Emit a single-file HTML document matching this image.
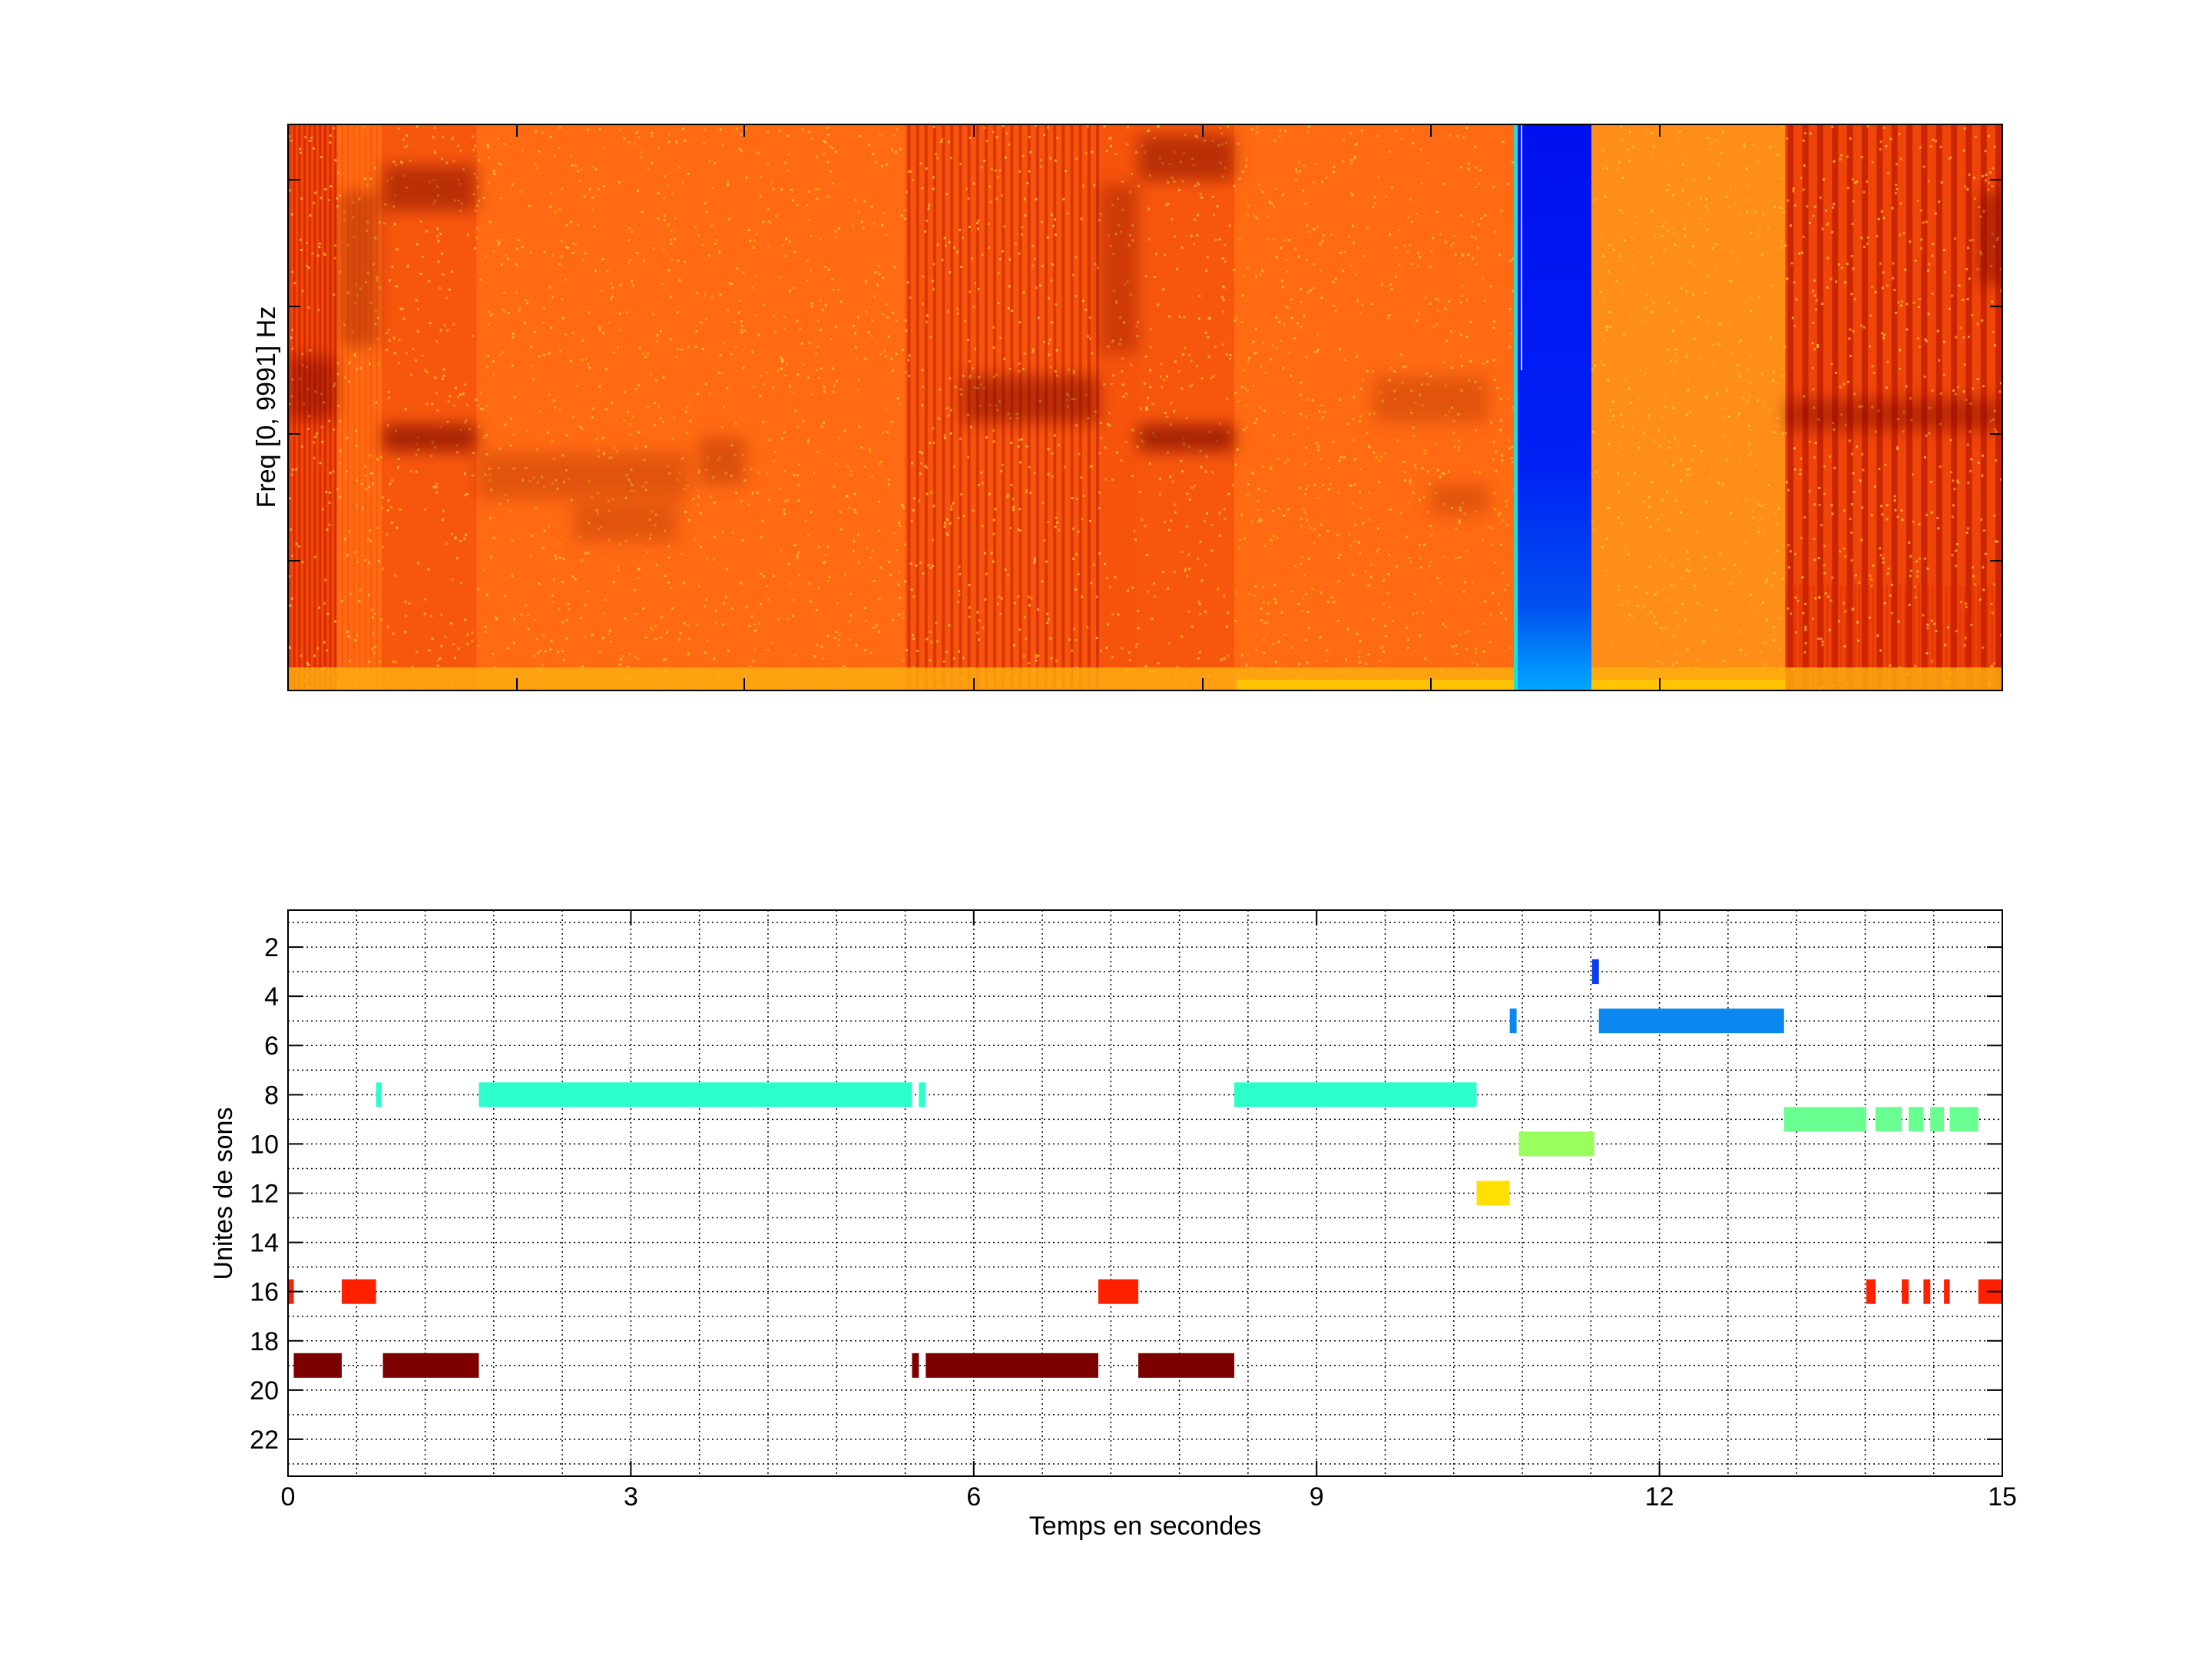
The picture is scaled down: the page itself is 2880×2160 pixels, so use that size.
<!DOCTYPE html>
<html><head><meta charset="utf-8">
<style>
html,body{margin:0;padding:0;background:#fff;width:2880px;height:2160px;overflow:hidden}
svg{display:block}
text{font-family:"Liberation Sans",sans-serif;font-size:34px;fill:#000}
</style></head>
<body>
<svg id="s" width="2880" height="2160" viewBox="0 0 2880 2160" xmlns="http://www.w3.org/2000/svg">
<defs>
<filter id="blur" x="-20%" y="-50%" width="140%" height="200%"><feGaussianBlur stdDeviation="10"/></filter>
<linearGradient id="bl" x1="0" y1="0" x2="0" y2="1">
<stop offset="0" stop-color="#0010f0"/><stop offset="0.6" stop-color="#0020f4"/><stop offset="0.85" stop-color="#0050f0"/><stop offset="1" stop-color="#00a8ff"/>
</linearGradient>
<clipPath id="cp"><rect x="375" y="162" width="2232" height="737"/></clipPath>
</defs>
<g id="spec" clip-path="url(#cp)"></g>
<g id="specax"></g>
<g id="bot"></g>
</svg>
<script>
const NS="http://www.w3.org/2000/svg";
function el(p,t,a,txt){const e=document.createElementNS(NS,t);for(const k in a)e.setAttribute(k,a[k]);if(txt!==undefined)e.textContent=txt;p.appendChild(e);return e;}
const X0=375,X1=2607,PX=(X1-X0)/15;
const tx=t=>X0+t*PX;
const sp=document.getElementById('spec'),sa=document.getElementById('specax');
const T=162,B=899;
el(sp,'rect',{x:X0,y:T,width:X1-X0,height:B-T,fill:'#ff6a12'});
el(sp,'rect',{x:2072,y:T,width:tx(13.1)-2072,height:B-T,fill:'#ff8e18'});
function dark(t0,t1,op,col){el(sp,'rect',{x:tx(t0),y:T,width:tx(t1)-tx(t0),height:B-T,fill:col||'#e02000',opacity:op});}
dark(0,0.42,0.45);dark(0.83,1.65,0.25);dark(5.4,7.1,0.3);dark(7.1,7.44,0.3);dark(7.44,8.28,0.25);dark(13.1,15,0.5);
function stripes(t0,t1,step,y0,y1,col,op,w){for(let t=t0;t<t1;t+=step){el(sp,'rect',{x:tx(t),y:y0,width:w||3,height:y1-y0,fill:col,opacity:op});}}
stripes(0,0.42,0.045,T,B,'#b00000',0.4,3);
stripes(0.42,0.83,0.05,T,B,'#e03000',0.25,2);
stripes(5.42,7.1,0.075,T,B,'#a00000',0.35,4);
stripes(13.12,15,0.13,T,B,'#a00000',0.45,8);
stripes(13.1,15,0.04,T+600,B,'#d82000',0.35,3);
// speckle
let seed=7;const rnd=()=>{seed=(seed*16807)%2147483647;return seed/2147483647;};
const sg=el(sp,'g',{});
for(let i=0;i<4000;i++){const x=X0+rnd()*(X1-X0),y=T+rnd()*(B-T);el(sg,'rect',{x:x,y:y,width:3,height:3,fill:rnd()<0.5?'#ffb020':'#ffd040',opacity:0.7});}
const bg=el(sp,'g',{filter:'url(#blur)'});
function band(t0,t1,yc,h,op){el(bg,'rect',{x:tx(t0),y:yc-h/2,width:tx(t1)-tx(t0),height:h,fill:'#700000',opacity:op});}
band(0,0.42,505,80,0.45);
band(0.83,1.65,570,35,0.6);band(0.83,1.65,245,60,0.45);
band(5.9,7.1,520,60,0.45);
band(7.44,8.28,570,35,0.6);band(7.44,8.28,205,60,0.45);
band(13.1,15,540,40,0.4);
band(1.65,3.5,620,60,0.2);band(2.5,3.4,680,50,0.2);band(3.6,4.0,600,60,0.25);
band(9.5,10.5,520,60,0.2);band(10.0,10.5,650,40,0.2);
band(0.45,0.8,350,200,0.3);band(7.1,7.44,350,220,0.3);band(14.8,15,310,120,0.5);
el(sp,'rect',{x:X0,y:B-30,width:X1-X0,height:30,fill:'#ffb010',opacity:0.8});
el(sp,'rect',{x:tx(8.3),y:B-14,width:tx(13.1)-tx(8.3),height:14,fill:'#ffd000',opacity:0.7});
el(sp,'rect',{x:1971,y:T,width:101,height:B-T,fill:'url(#bl)'});
el(sp,'rect',{x:1971,y:T,width:5,height:B-T,fill:'#20e0d0'});
el(sp,'rect',{x:1980,y:T,width:2,height:320,fill:'#ffffff',opacity:0.8});
el(sa,'rect',{x:X0,y:T,width:X1-X0,height:B-T,fill:'none',stroke:'#000','stroke-width':2});
[673,969,1268,1566,1863,2161].forEach(x=>{el(sa,'line',{x1:x,y1:T,x2:x,y2:T+16,stroke:'#000','stroke-width':2});el(sa,'line',{x1:x,y1:B,x2:x,y2:B-16,stroke:'#000','stroke-width':2});});
[234,399,565,730].forEach(y=>{el(sa,'line',{x1:X0,y1:y,x2:X0+16,y2:y,stroke:'#000','stroke-width':2});el(sa,'line',{x1:X1,y1:y,x2:X1-16,y2:y,stroke:'#000','stroke-width':2});});
el(sa,'text',{x:358,y:530,'text-anchor':'middle',transform:'rotate(-90 358 530)'},'Freq [0, 9991] Hz');
const g=document.getElementById('bot');
const BT=1185,BB=1922,PY=(BB-BT)/23;
const ty=v=>BT+(v-0.5)*PY;
for(let v=1;v<=23;v++){el(g,'line',{x1:X0,y1:ty(v),x2:X1,y2:ty(v),stroke:'#000','stroke-width':1.5,'stroke-dasharray':'2 4'});}
for(let k=1;k<25;k++){const x=X0+k*0.6*PX;if(x<X1-3)el(g,'line',{x1:x,y1:BT,x2:x,y2:BB,stroke:'#000','stroke-width':1.5,'stroke-dasharray':'2 4'});}
const bars=[
[3,'#0a3cf0',[[11.41,11.47]]],
[5,'#0a88f0',[[10.69,10.75],[11.47,13.09]]],
[8,'#2cffca',[[0.77,0.82],[1.67,5.46],[5.52,5.58],[8.28,10.40]]],
[9,'#68ff90',[[13.09,13.81],[13.89,14.12],[14.18,14.31],[14.37,14.49],[14.54,14.79]]],
[10,'#98ff5c',[[10.77,11.43]]],
[12,'#ffe000',[[10.40,10.69]]],
[16,'#ff2000',[[0,0.05],[0.47,0.77],[7.09,7.44],[13.81,13.89],[14.12,14.18],[14.31,14.37],[14.49,14.54],[14.79,15]]],
[19,'#7c0000',[[0.05,0.47],[0.83,1.67],[5.46,5.52],[5.58,7.09],[7.44,8.28]]]
];
bars.forEach(([v,c,segs])=>segs.forEach(([a,b])=>el(g,'rect',{x:tx(a),y:ty(v-0.5),width:tx(b)-tx(a),height:PY,fill:c})));
el(g,'rect',{x:X0,y:BT,width:X1-X0,height:BB-BT,fill:'none',stroke:'#000','stroke-width':2});
[0,3,6,9,12,15].forEach(t=>{const x=tx(t);el(g,'line',{x1:x,y1:BB,x2:x,y2:BB-20,stroke:'#000','stroke-width':2});el(g,'line',{x1:x,y1:BT,x2:x,y2:BT+20,stroke:'#000','stroke-width':2});el(g,'text',{x:x,y:BB+38,'text-anchor':'middle'},String(t));});
for(let v=2;v<=22;v+=2){const y=ty(v);el(g,'line',{x1:X0,y1:y,x2:X0+20,y2:y,stroke:'#000','stroke-width':2});el(g,'line',{x1:X1,y1:y,x2:X1-20,y2:y,stroke:'#000','stroke-width':2});el(g,'text',{x:X0-12,y:y+12,'text-anchor':'end'},String(v));}
el(g,'text',{x:1491,y:1998,'text-anchor':'middle'},'Temps en secondes');
el(g,'text',{x:302,y:1554,'text-anchor':'middle',transform:'rotate(-90 302 1554)'},'Unites de sons');
</script>
</body></html>
